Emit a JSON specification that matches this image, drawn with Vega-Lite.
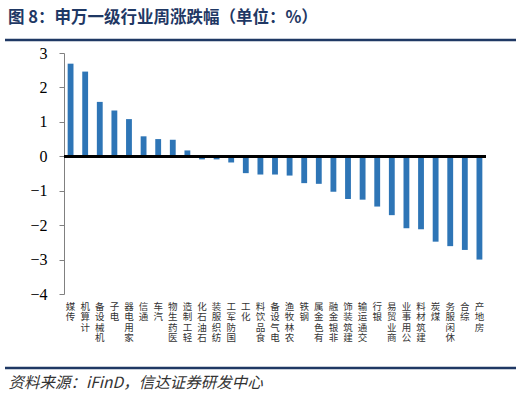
{
  "$schema": "https://vega.github.io/schema/vega-lite/v6.json",
  "background": "white",
  "width": 422,
  "height": 241,
  "autosize": {"type": "none"},
  "padding": {"left": 64, "top": 53, "right": 35, "bottom": 100},
  "config": {
    "view": {"stroke": null},
    "axisY": {
      "tickCount": 8,
      "grid": false,
      "domainColor": "#808080",
      "tickColor": "#808080",
      "tickSize": 5,
      "labelFont": "Liberation Serif",
      "labelFontSize": 16,
      "labelColor": "#000000",
      "labelPadding": 12,
      "labelOverlap": false,
      "title": null
    }
  },
  "title": {
    "text": "图 8：申万一级行业周涨跌幅（单位：%）",
    "anchor": "start",
    "frame": "group",
    "dx": -56,
    "baseline": "bottom",
    "offset": -4,
    "font": "Noto Sans CJK SC",
    "fontSize": 16.5,
    "fontWeight": "bold",
    "color": "#1F3864"
  },
  "data": {
    "values": [
      {"industry": "传媒", "change": 2.69},
      {"industry": "计算机", "change": 2.46},
      {"industry": "机械设备", "change": 1.58},
      {"industry": "电子", "change": 1.33},
      {"industry": "家用电器", "change": 1.08},
      {"industry": "通信", "change": 0.58},
      {"industry": "汽车", "change": 0.5},
      {"industry": "医药生物", "change": 0.48},
      {"industry": "轻工制造", "change": 0.17},
      {"industry": "石油石化", "change": -0.09},
      {"industry": "纺织服装", "change": -0.09},
      {"industry": "国防军工", "change": -0.18},
      {"industry": "化工", "change": -0.49},
      {"industry": "食品饮料", "change": -0.53},
      {"industry": "电气设备", "change": -0.53},
      {"industry": "农林牧渔", "change": -0.56},
      {"industry": "钢铁", "change": -0.78},
      {"industry": "有色金属", "change": -0.8},
      {"industry": "非银金融", "change": -1.03},
      {"industry": "建筑装饰", "change": -1.24},
      {"industry": "交通运输", "change": -1.26},
      {"industry": "银行", "change": -1.46},
      {"industry": "商业贸易", "change": -1.71},
      {"industry": "公用事业", "change": -2.09},
      {"industry": "建筑材料", "change": -2.12},
      {"industry": "煤炭", "change": -2.48},
      {"industry": "休闲服务", "change": -2.61},
      {"industry": "综合", "change": -2.72},
      {"industry": "房地产", "change": -3.0}
    ]
  },
  "resolve": {"scale": {"x": "independent"}},
  "layer": [
    {
      "mark": {"type": "bar", "color": "#2E75B6"},
      "encoding": {
        "x": {
          "field": "industry",
          "type": "nominal",
          "sort": null,
          "scale": {"paddingInner": 0.6, "paddingOuter": 0.25},
          "axis": {
            "orient": "bottom",
            "domain": false,
            "ticks": false,
            "tickSize": 0,
            "labelAngle": 0,
            "labelExpr": "reverse(split(datum.label, ''))",
            "labelFont": "Noto Sans CJK SC",
            "labelFontSize": 9.5,
            "labelLineHeight": 10.5,
            "labelColor": "#333333",
            "labelBaseline": "top",
            "labelAlign": "center",
            "labelPadding": 7,
            "labelOverlap": false,
            "labelBound": false,
            "title": "资料来源：iFinD，信达证券研发中心",
            "titleX": -56,
            "titleY": 88,
            "titleAlign": "left",
            "titleBaseline": "middle",
            "titleFont": "Noto Sans CJK SC",
            "titleFontSize": 15.5,
            "titleFontWeight": "normal",
            "titleFontStyle": "italic",
            "titleColor": "#333333"
          }
        },
        "y": {
          "field": "change",
          "type": "quantitative",
          "scale": {"domain": [-4, 3], "nice": false}
        }
      }
    },
    {
      "mark": {"type": "rule", "color": "#000000", "strokeWidth": 2},
      "encoding": {"y": {"datum": 0, "type": "quantitative"}}
    },
    {
      "transform": [{"aggregate": [{"op": "count", "as": "n"}]}],
      "mark": {"type": "rule", "color": "#1F3864", "strokeWidth": 2.5},
      "encoding": {
        "x": {"datum": -0.1398, "type": "quantitative", "scale": {"domain": [0, 1]}, "axis": null},
        "x2": {"datum": 1.0711},
        "y": {"datum": 3.378, "type": "quantitative"}
      }
    },
    {
      "transform": [{"aggregate": [{"op": "count", "as": "n"}]}],
      "mark": {"type": "rule", "color": "#1F3864", "strokeWidth": 2.5},
      "encoding": {
        "x": {"datum": -0.1398, "type": "quantitative", "scale": {"domain": [0, 1]}, "axis": null},
        "x2": {"datum": 1.0711},
        "y": {"datum": -6.149, "type": "quantitative"}
      }
    }
  ]
}
